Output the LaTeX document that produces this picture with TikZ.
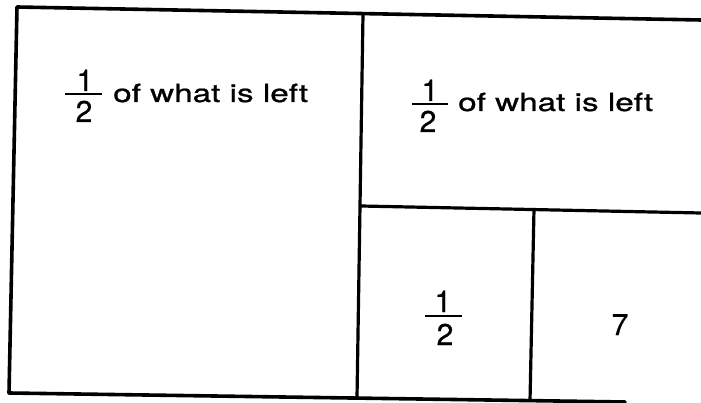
\documentclass[tikz,border=0pt]{standalone}
\usepackage{graphicx}
\usepackage{fontspec}
\setmainfont[FakeBold=0.8]{TeX Gyre Heros}
\begin{document}
\begin{tikzpicture}[x=1pt,y=-1pt,
  frame/.style={line width=3.6pt, line cap=round, line join=round},
  inner/.style={line width=3.2pt},
  lbl/.style={inner sep=0pt, anchor=base west, font=\fontsize{25}{30}\selectfont},
  num/.style={inner sep=0pt, anchor=base, font=\fontsize{30}{36}\selectfont},
  bar/.style={line width=2.2pt}]
\useasboundingbox (0,0) rectangle (701,403);
% frame
\coordinate (tl) at (17,7);
\coordinate (tr) at (701,20);
\coordinate (bl) at (9,393);
\coordinate (br) at (625,402);
\draw[frame] (tr) -- (tl) -- (bl) -- (br);
% inner divisions
\coordinate (mt) at (363,14);
\coordinate (mb) at (357,398);
\coordinate (hl) at (361,206);
\coordinate (hr) at (701,213);
\coordinate (st) at (534,209);
\coordinate (sb) at (530,401);
\draw[inner] (mt) -- (mb);
\draw[inner] (hl) -- (hr);
\draw[inner] (st) -- (sb);
% left block label
\node[num] (n1) at (85,91) {1};
\node[num] (d1) at (84,122) {2};
\coordinate (b1l) at (65,94);
\coordinate (b1r) at (102,94);
\draw[bar] (b1l) -- (b1r);
\node[lbl] (t1) at (113,102) {\scalebox{1.33}[1]{of what is left}};
% right top label
\node[num] (n2) at (430,101) {1};
\node[num] (d2) at (428,132) {2};
\coordinate (b2l) at (412,104);
\coordinate (b2r) at (448,104);
\draw[bar] (b2l) -- (b2r);
\node[lbl] (t2) at (458,111) {\scalebox{1.33}[1]{of what is left}};
% bottom labels
\node[num] (n3) at (443,312) {1};
\node[num] (d3) at (445,345) {2};
\coordinate (b3l) at (425,316);
\coordinate (b3r) at (462,316);
\draw[bar] (b3l) -- (b3r);
\node[num] (seven) at (620,335) {7};
\end{tikzpicture}
\end{document}
